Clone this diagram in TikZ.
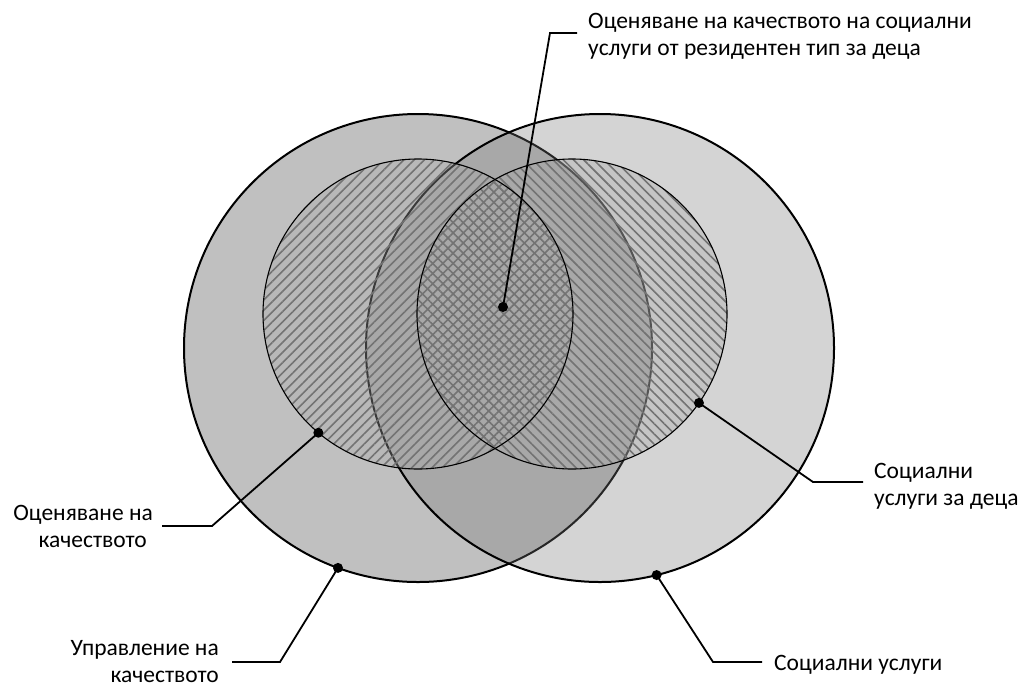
\documentclass[tikz,border=0pt]{standalone}
\usepackage{fontspec}
\setmainfont{Carlito}
\usetikzlibrary{patterns.meta}
\definecolor{leftgray}{gray}{0.753}
\definecolor{rightgray}{gray}{0.47}
\definecolor{innergray}{gray}{0.667}
\definecolor{hatch}{gray}{0.45}
\begin{document}
\begin{tikzpicture}[x=1pt,y=-1pt,
  shapec/.style={circle,inner sep=0pt,outer sep=0pt},
  bigc/.style={shapec,minimum size=468pt},
  innc/.style={shapec,minimum size=310pt},
  bigline/.style={line width=2pt},
  innline/.style={line width=1.1pt},
  lead/.style={line width=1.8pt,line join=miter},
  dot/.style={circle,fill=black,inner sep=0pt,minimum size=10pt},
  lbl/.style={inner sep=0pt,font=\fontsize{23.5}{27}\selectfont}]
\useasboundingbox (0,0) rectangle (1025,686);

% big circles
\node[bigc,fill=leftgray,draw,bigline] (LB) at (418,348) {};
\node[bigc,fill=rightgray,fill opacity=0.32,draw,bigline] (RB) at (600,348) {};

% inner circles: tint, hatch, outline
\node[innc,fill=innergray,fill opacity=0.35] (LI) at (418,314) {};
\node[innc,fill=innergray,fill opacity=0.35] (RI) at (572,314) {};
\path[pattern={Lines[angle=45,distance=7.2pt,line width=1.6pt]},pattern color=hatch] (LI.center) circle[radius=155];
\path[pattern={Lines[angle=-45,distance=7.2pt,line width=1.6pt]},pattern color=hatch] (RI.center) circle[radius=155];
\draw[innline] (LI.center) circle[radius=155];
\draw[innline] (RI.center) circle[radius=155];

% dots
\node[dot] (dC)  at (503,307) {};
\node[dot] (dQE) at (LI.230.8) {};
\node[dot] (dQM) at (LB.250.9) {};
\node[dot] (dSC) at (RI.325.7) {};
\node[dot] (dSS) at (RB.284.3) {};

% leader bends and ends
\coordinate (bC) at (550,33);  \coordinate (eC) at (577,33);
\coordinate (bQE) at (212,526); \coordinate (eQE) at (162,526);
\coordinate (bQM) at (280,662); \coordinate (eQM) at (232,662);
\coordinate (bSC) at (813,482); \coordinate (eSC) at (863,482);
\coordinate (bSS) at (713,662); \coordinate (eSS) at (762,662);

\draw[lead] (dC.center) -- (bC) -- (eC);
\draw[lead] (dQE.center) -- (bQE) -- (eQE);
\draw[lead] (dQM.center) -- (bQM) -- (eQM);
\draw[lead] (dSC.center) -- (bSC) -- (eSC);
\draw[lead] (dSS.center) -- (bSS) -- (eSS);

% labels (base anchor = baseline of the last line)
\node[lbl,align=left,anchor=base west] (tC) at (588,55) {Оценяване на качеството на социални\\услуги от резидентен тип за деца};
\node[lbl,align=right,anchor=base east] (tQE) at (153,547) {Оценяване на\\качеството\hspace*{6pt}};
\node[lbl,align=right,anchor=base east] (tQM) at (219,682) {Управление на\\качеството};
\node[lbl,align=left,anchor=base west] (tSC) at (874,505) {Социални\\услуги за деца};
\node[lbl,anchor=base west] (tSS) at (774,670) {Социални услуги};
\end{tikzpicture}
\end{document}
